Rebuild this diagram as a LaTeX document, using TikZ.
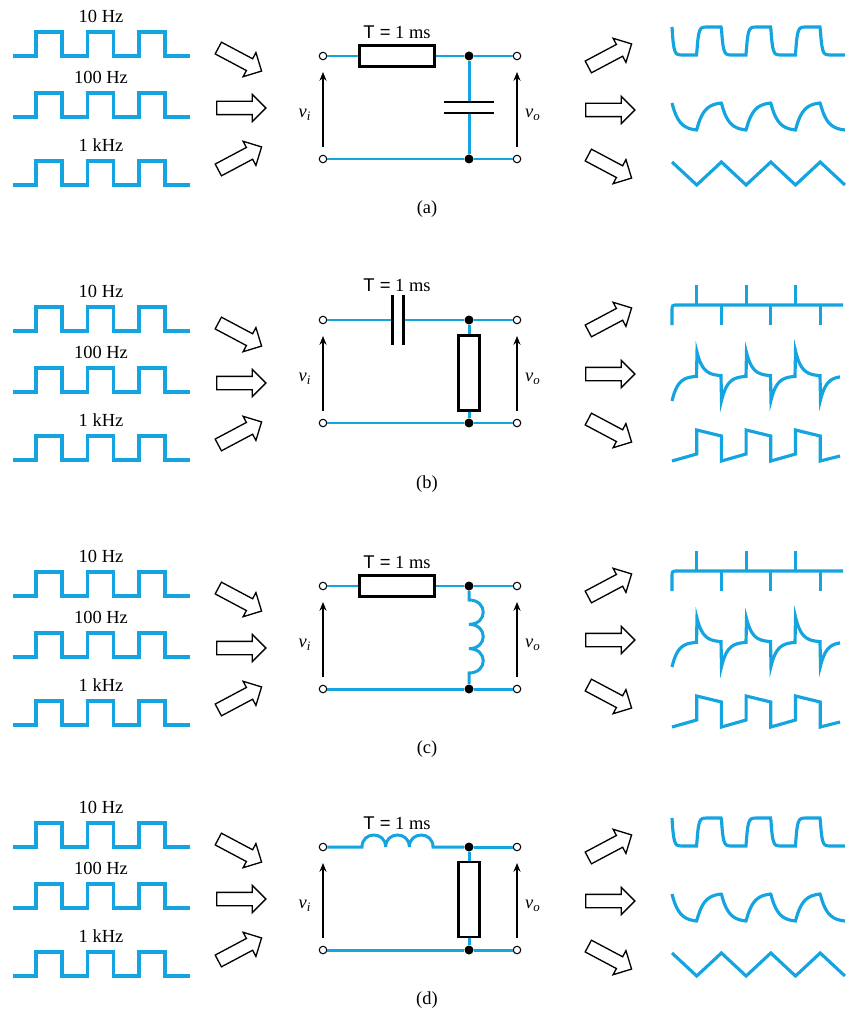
\documentclass[tikz,border=0pt]{standalone}
\usepackage{fontspec}
\setmainfont{Liberation Serif}
\newfontfamily\sansT{Liberation Sans}
\usetikzlibrary{arrows.meta, calc, shapes.arrows}
\definecolor{sig}{RGB}{20,165,225}
\tikzset{%
	wave/.style={draw=sig, line width=1.8pt},
	wire/.style={draw=sig, line width=1.7pt},
	term/.style={draw, circle, fill=white, minimum size=1.5mm, inner sep=0mm, line width=0.6pt},
	junction/.style={circle, fill=black, minimum size=1.8mm, inner sep=0mm},
	resbox/.style={draw, rectangle, fill=white, line width=1.5pt, inner sep=0mm},
	plate/.style={line width=1.7pt},
	meas/.style={-{Stealth[length=5pt, width=4pt]}, line width=0.7pt},
	blockarr/.style={single arrow, draw, fill=white, line width=0.75pt, inner xsep=0mm,
		inner ysep=1.2mm, minimum height=9.8mm, single arrow head extend=1.4mm},
	declare function={
		lp(\x,\m)=(mod(floor(\x/24.7),2)==0) ? (1-exp(-(\x-24.7*floor(\x/24.7))/\m))/(1-exp(-24.7/\m))
			: 1-(1-exp(-(\x-24.7*floor(\x/24.7))/\m))/(1-exp(-24.7/\m));
		hp(\x,\m)=(mod(floor(\x/24.7),2)==0) ? exp(-(\x-24.7*floor(\x/24.7))/\m)
			: -exp(-(\x-24.7*floor(\x/24.7))/\m);
	}
}

\begin{document}
\begin{tikzpicture}[x=0.2mm, y=-0.2mm, font=\fontsize{10.5}{12}\selectfont]
	\useasboundingbox (0,0) rectangle (848,1012);

	% input signals
	\foreach \oy/\pn in {0/a, 275/b, 540/c, 791/d} {
		\foreach \y/\freq/\i in {32/10 Hz/1, 93/100 Hz/2, 161/1 kHz/3} {
			\draw[wave] (13,\y+\oy+24) \foreach \x in {36,87.5,139} {-| (\x,\y+\oy) -| (\x+26,\y+\oy+24)} -- (190,\y+\oy+24);
			\node (f\pn\i) at (101,\y+\oy-16) {\freq};
		}
		\node[blockarr, rotate=-28] (ia\pn1) at (237,58+\oy)  {};
		\node[blockarr]             (ia\pn2) at (238,108+\oy) {};
		\node[blockarr, rotate=28]  (ia\pn3) at (237,160+\oy) {};
		\node (cap\pn) at (427,209+\oy) {(\pn)};
	}

	% terminals, junctions, return wire
	\foreach \oy/\pn in {0/a, 264/b, 530/c, 791/d} {
		\node[term]     (ti\pn) at (323,56+\oy)  {};
		\node[term]     (bi\pn) at (323,159+\oy) {};
		\node[term]     (to\pn) at (517,56+\oy)  {};
		\node[term]     (bo\pn) at (517,159+\oy) {};
		\node[junction] (nt\pn) at (469,56+\oy)  {};
		\node[junction] (nb\pn) at (469,159+\oy) {};
		\draw[wire] (bi\pn) -- (nb\pn) -- (bo\pn);
		\draw[wire] (nt\pn) -- (to\pn);
		\draw[meas] ($(bi\pn)+(0,-12)$) -- ($(ti\pn)+(0,16)$);
		\draw[meas] ($(bo\pn)+(0,-12)$) -- ($(to\pn)+(0,16)$);
		\node (vi\pn) at (305,115+\oy) {\textit{v}\textsubscript{\textit{i}}};
		\node (vo\pn) at (533,115+\oy) {\textit{v}\textsubscript{\textit{o}}};
		\node[blockarr, rotate=28]  (oa\pn1) at (607,57+\oy)  {};
		\node[blockarr]             (oa\pn2) at (607,110+\oy) {};
		\node[blockarr, rotate=-28] (oa\pn3) at (607,165+\oy) {};
	}

	% (a) series R, shunt C
	\node[resbox, minimum width=15mm, minimum height=4.3mm] (Ra) at (397,56) {};
	\node (Ta) at (397,32) {{\sansT T =} 1 ms};
	\coordinate (Ca1) at (469,102);
	\coordinate (Ca2) at (469,113);
	\draw[wire] (tia) -- (Ra) -- (nta);
	\draw[wire] (nta) -- (Ca1);
	\draw[wire] (Ca2) -- (nba);
	\draw[plate] ($(Ca1)+(-25,0)$) -- ($(Ca1)+(25,0)$);
	\draw[plate] ($(Ca2)+(-25,0)$) -- ($(Ca2)+(25,0)$);

	% (b) series C, shunt R
	\coordinate (Cb1) at (392,320);
	\coordinate (Cb2) at (403,320);
	\node (Tb) at (397,285) {{\sansT T =} 1 ms};
	\node[resbox, minimum width=4.3mm, minimum height=15mm] (Rb) at (469,373) {};
	\draw[wire] (tib) -- (Cb1);
	\draw[wire] (Cb2) -- (ntb);
	\draw[plate] ($(Cb1)+(0,-25)$) -- ($(Cb1)+(0,25)$);
	\draw[plate] ($(Cb2)+(0,-25)$) -- ($(Cb2)+(0,25)$);
	\draw[wire] (ntb) -- (Rb) -- (nbb);

	% (c) series R, shunt L
	\node[resbox, minimum width=15mm, minimum height=4.3mm] (Rc) at (397,586) {};
	\node (Tc) at (397,562) {{\sansT T =} 1 ms};
	\coordinate (Lc) at (469,600);
	\draw[wire] (tic) -- (Rc) -- (ntc);
	\draw[wire] (ntc) -- (Lc) \foreach \k in {1,2,3} {.. controls +(19,0) and +(19,0) .. ++(0,24.33)} -- (nbc);

	% (d) series L, shunt R
	\coordinate (Ld) at (362,847);
	\node (Td) at (397,823) {{\sansT T =} 1 ms};
	\node[resbox, minimum width=4.3mm, minimum height=15mm] (Rd) at (469,899.5) {};
	\draw[wire] (tid) -- (Ld) \foreach \k in {1,2,3} {.. controls +(0,-16) and +(0,-16) .. ++(23.67,0)} -- (ntd);
	\draw[wire] (ntd) -- (Rd) -- (nbd);

	% low-pass outputs
	\foreach \oy in {0, 791} {
		\draw[wave] plot[domain=0:172.9, samples=347] ({672+\x},{\oy+27+28*lp(\x,1.5)});
		\draw[wave] plot[domain=0:172.9, samples=347] ({672+\x},{\oy+103+27*lp(\x,7)});
		\draw[wave] (672,\oy+162) \foreach \k in {0, 49.4, 98.8} {-- (696.7+\k,\oy+185) -- (721.4+\k,\oy+162)} -- (844.9,\oy+185);
	}

	% high-pass outputs
	\foreach \oy in {264, 530} {
		\draw[wave] (672,\oy+61) -- (672,\oy+47) .. controls (672,\oy+41) .. (678,\oy+41) -- (843,\oy+41);
		\foreach \k in {0, 49.4, 98.8} {
			\draw[wave] (696.7+\k,\oy+41) -- (696.7+\k,\oy+21);
			\draw[wave] (721.4+\k,\oy+41) -- (721.4+\k,\oy+61);
		}
		\draw[wave] plot[domain=0:168, samples=337] ({672+\x},{\oy+112+25*hp(\x,6)});
		\draw[wave] (672,\oy+197) \foreach \k in {0, 49.4, 98.8} {-- (696.7+\k,\oy+190) -- (696.7+\k,\oy+166) -- (721.4+\k,\oy+172) -- (721.4+\k,\oy+197)} -- (840,\oy+192);
	}
\end{tikzpicture}
\end{document}
